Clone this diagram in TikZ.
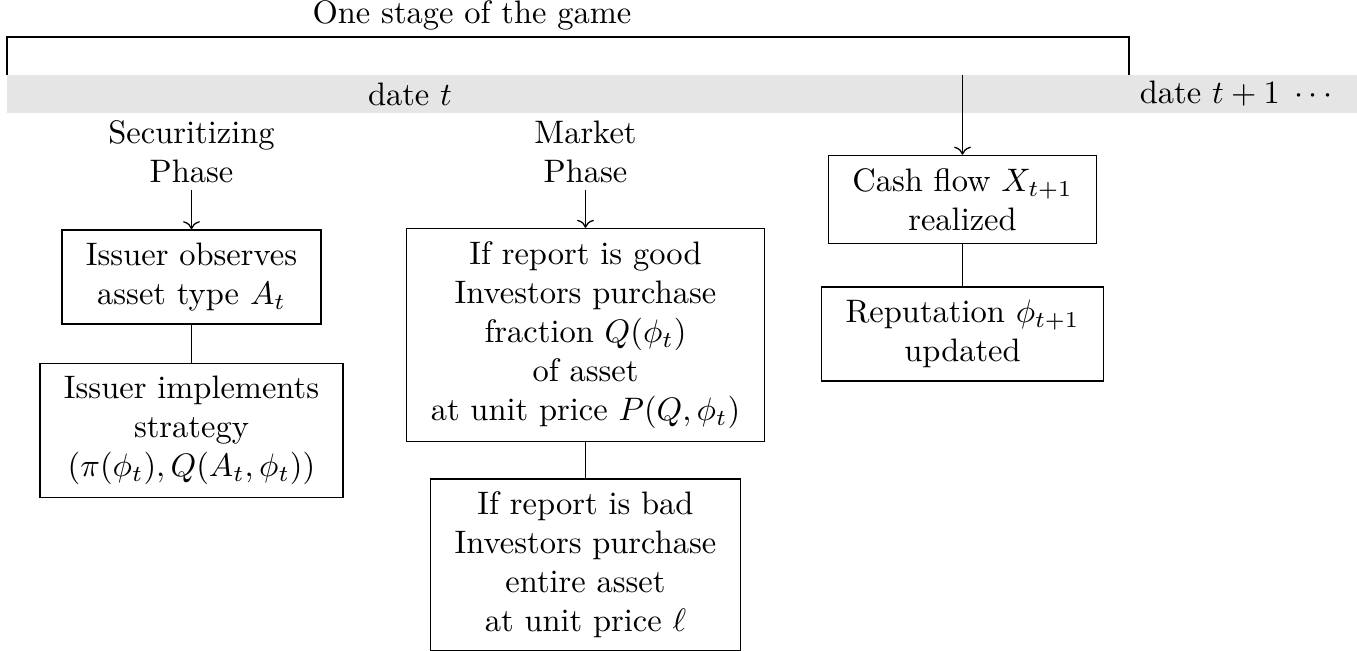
\documentclass[tikz,border=0pt]{standalone}
\usetikzlibrary{arrows.meta}
\begin{document}
\begin{tikzpicture}[x=0.30769pt,y=-0.30769pt,
  stagebox/.style={draw,align=center,inner xsep=7.4pt,inner ysep=4pt},
  phaselbl/.style={align=center,inner sep=2pt},
  conn/.style={draw,line width=0.4pt},
  arr/.style={draw,line width=0.4pt,->}]
\useasboundingbox (0,0) rectangle (1357,651);
% grey date band
\fill[gray!20] (7,75) rectangle (1357,113);
\node (datet) at (410,94) {date $t$};
\node (datet1) at (1236,94) {date $t+1\;\cdots$};
% bracket
\coordinate (bl) at (7,75);
\coordinate (br) at (1129,75);
\draw (bl) -- (7,37) -- (1129,37) -- (br);
\node (stage) at (472,15) {One stage of the game};
% securitizing phase
\node[phaselbl] (sec) at (191.5,152) {Securitizing\\Phase};
\node[stagebox] (obs) at (191.5,277) {Issuer observes\\asset type $A_t$};
\node[stagebox] (impl) at (191.5,430.5) {Issuer implements\\strategy\\$(\pi(\phi_t),Q(A_t,\phi_t))$};
\draw[arr] (sec) -- (obs);
\draw[conn] (obs) -- (impl);
% market phase
\node[phaselbl] (mkt) at (585.5,152) {Market\\Phase};
\node[stagebox] (good) at (585.5,335) {If report is good\\Investors purchase\\fraction $Q(\phi_t)$\\of asset\\at unit price $P(Q,\phi_t)$};
\node[stagebox] (bad) at (585.5,565) {If report is bad\\Investors purchase\\entire asset\\at unit price $\ell$};
\draw[arr] (mkt) -- (good);
\draw[conn] (good) -- (bad);
% cash flow
\coordinate (cf) at (962.5,75);
\node[stagebox] (cash) at (962.5,199.5) {Cash flow $X_{t+1}$\\realized};
\node[stagebox] (rep) at (962.5,334) {Reputation $\phi_{t+1}$\\updated};
\draw[arr] (cf) -- (cash);
\draw[conn] (cash) -- (rep);
\end{tikzpicture}
\end{document}
